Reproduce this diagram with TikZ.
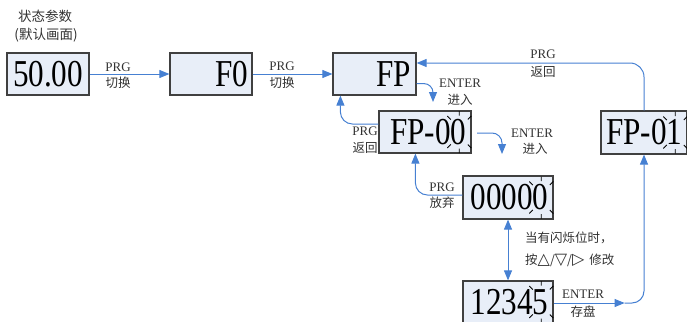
\documentclass[tikz,border=0pt]{standalone}
\usepackage{fontspec}
\setmainfont{Liberation Serif}
\newfontfamily\lcd[FakeStretch=0.82]{Liberation Serif}
\newfontfamily\cjk{Noto Sans CJK SC}
\newfontfamily\sym{DejaVu Sans}
\usetikzlibrary{arrows.meta,calc}
\definecolor{boxfill}{RGB}{232,238,248}
\definecolor{boxline}{RGB}{64,64,64}
\definecolor{arrowblue}{RGB}{70,128,210}
\definecolor{lblcol}{RGB}{50,50,50}
\tikzset{
  lcdbox/.style={draw=boxline, fill=boxfill, line width=1.2pt, inner sep=0pt,
    align=right, font=\lcd\fontsize{38}{38}\selectfont},
  lbl/.style={font=\fontsize{13}{13}\selectfont, text=lblcol, inner sep=0pt},
  cn/.style={font=\cjk\fontsize{12.5}{13}\selectfont, text=lblcol, inner sep=0pt},
  arr/.style={draw=arrowblue, line width=1pt, -{Triangle[length=10pt,width=8pt]}},
  darr/.style={draw=arrowblue, line width=1pt, {Triangle[length=10pt,width=8pt]}-{Triangle[length=10pt,width=8pt]}},
  blinkmark/.pic={
    \draw[line width=0.8pt] (0,-21) -- (0,-16.5) (0,16.5) -- (0,21)
      (-12,-16) -- (-8.5,-12.5) (12,-16) -- (8.5,-12.5)
      (-12,16) -- (-8.5,12.5) (12,16) -- (8.5,12.5);
  }
}
\newcommand{\tri}[1]{{\sym\fontsize{16}{16}\selectfont #1}}
\begin{document}
\begin{tikzpicture}[x=1pt,y=-1pt]
\useasboundingbox (0,0) rectangle (687,321);
% top-left caption
\node[cn, font=\cjk\fontsize{13.5}{14}\selectfont] (cap1) at (45,16) {状态参数};
\node[cn, font=\cjk\fontsize{13.5}{14}\selectfont] (cap2) at (46,35) {(默认画面)};
% boxes
\node[lcdbox, minimum width=82, minimum height=42, text width=70] (b5000) at (48,74) {50.00};
\node[lcdbox, minimum width=82, minimum height=42, text width=74] (bF0) at (211,74) {F0};
\node[lcdbox, minimum width=83, minimum height=42, text width=73] (bFP) at (374.5,74) {FP};
\node[lcdbox, minimum width=92, minimum height=42, text width=83] (bFP00) at (425,132) {FP-00};
\node[lcdbox, minimum width=86, minimum height=43, text width=77] (bFP01) at (644,132.5) {FP-01};
\node[lcdbox, minimum width=90, minimum height=43, text width=81] (b00000) at (508,197.5) {00000};
\node[lcdbox, minimum width=90, minimum height=42, text width=81] (b12345) at (508,302) {12345};
% blink marks
\pic at ($(bFP00.east)+(-12.3,0)$) {blinkmark};
\pic at ($(bFP01.east)+(-12.3,0)$) {blinkmark};
\pic at ($(b00000.east)+(-12.3,0)$) {blinkmark};
\pic at ($(b12345.east)+(-12.3,0)$) {blinkmark};
% coordinates
\coordinate (eFPs) at ($(bFP.south east)+(0,-12)$);
\coordinate (eFPe) at (433,102);
\coordinate (e00s) at (477,133);
\coordinate (e00e) at (502,154);
\coordinate (c12) at ($(b12345.east)+(71,1)$);
% connectors
\draw[arr] (b5000.east) -- (bF0.west);
\draw[arr] (bF0.east) -- (bFP.west);
\draw[arr, rounded corners=9] (eFPs) -| (eFPe);
\draw[arr, rounded corners=12] ($(bFP00.west)+(0,-8)$) -| ($(bFP.south west)+(8,0)$);
\draw[arr, rounded corners=10] (e00s) -| (e00e);
\draw[arr, rounded corners=12] ($(b00000.west)+(0,-2.5)$) -| ($(bFP00.south west)+(37,0)$);
\draw[darr] (b00000.south) -- (b12345.north);
\draw[arr] (b12345.east |- c12) -- (c12);
\draw[arr, rounded corners=12] (c12) -| (bFP01.south);
\draw[arr, rounded corners=14] (bFP01.north) |- ($(bFP.east)+(0,-11)$);
% labels
\node[lbl] (l1a) at (118,67) {PRG};
\node[cn]  (l1b) at (118,83) {切换};
\node[lbl] (l2a) at (282,66) {PRG};
\node[cn]  (l2b) at (282,83) {切换};
\node[lbl] (l3a) at (460,83) {ENTER};
\node[cn]  (l3b) at (460,100) {进入};
\node[lbl] (l4a) at (365,131) {PRG};
\node[cn]  (l4b) at (365,148) {返回};
\node[lbl] (l5a) at (532,133) {ENTER};
\node[cn]  (l5b) at (535,149) {进入};
\node[lbl] (l6a) at (442,187) {PRG};
\node[cn]  (l6b) at (442,203) {放弃};
\node[cn, anchor=west] (l7a) at (525,238) {当有闪烁位时，};
\node[cn, anchor=west] (l7b) at (525,260) {按\tri{△}/\tri{▽}/\tri{▷}\, 修改};
\node[lbl] (l8a) at (583,294) {ENTER};
\node[cn]  (l8b) at (583,312) {存盘};
\node[lbl] (l9a) at (543,54) {PRG};
\node[cn]  (l9b) at (543,72) {返回};
\end{tikzpicture}
\end{document}
